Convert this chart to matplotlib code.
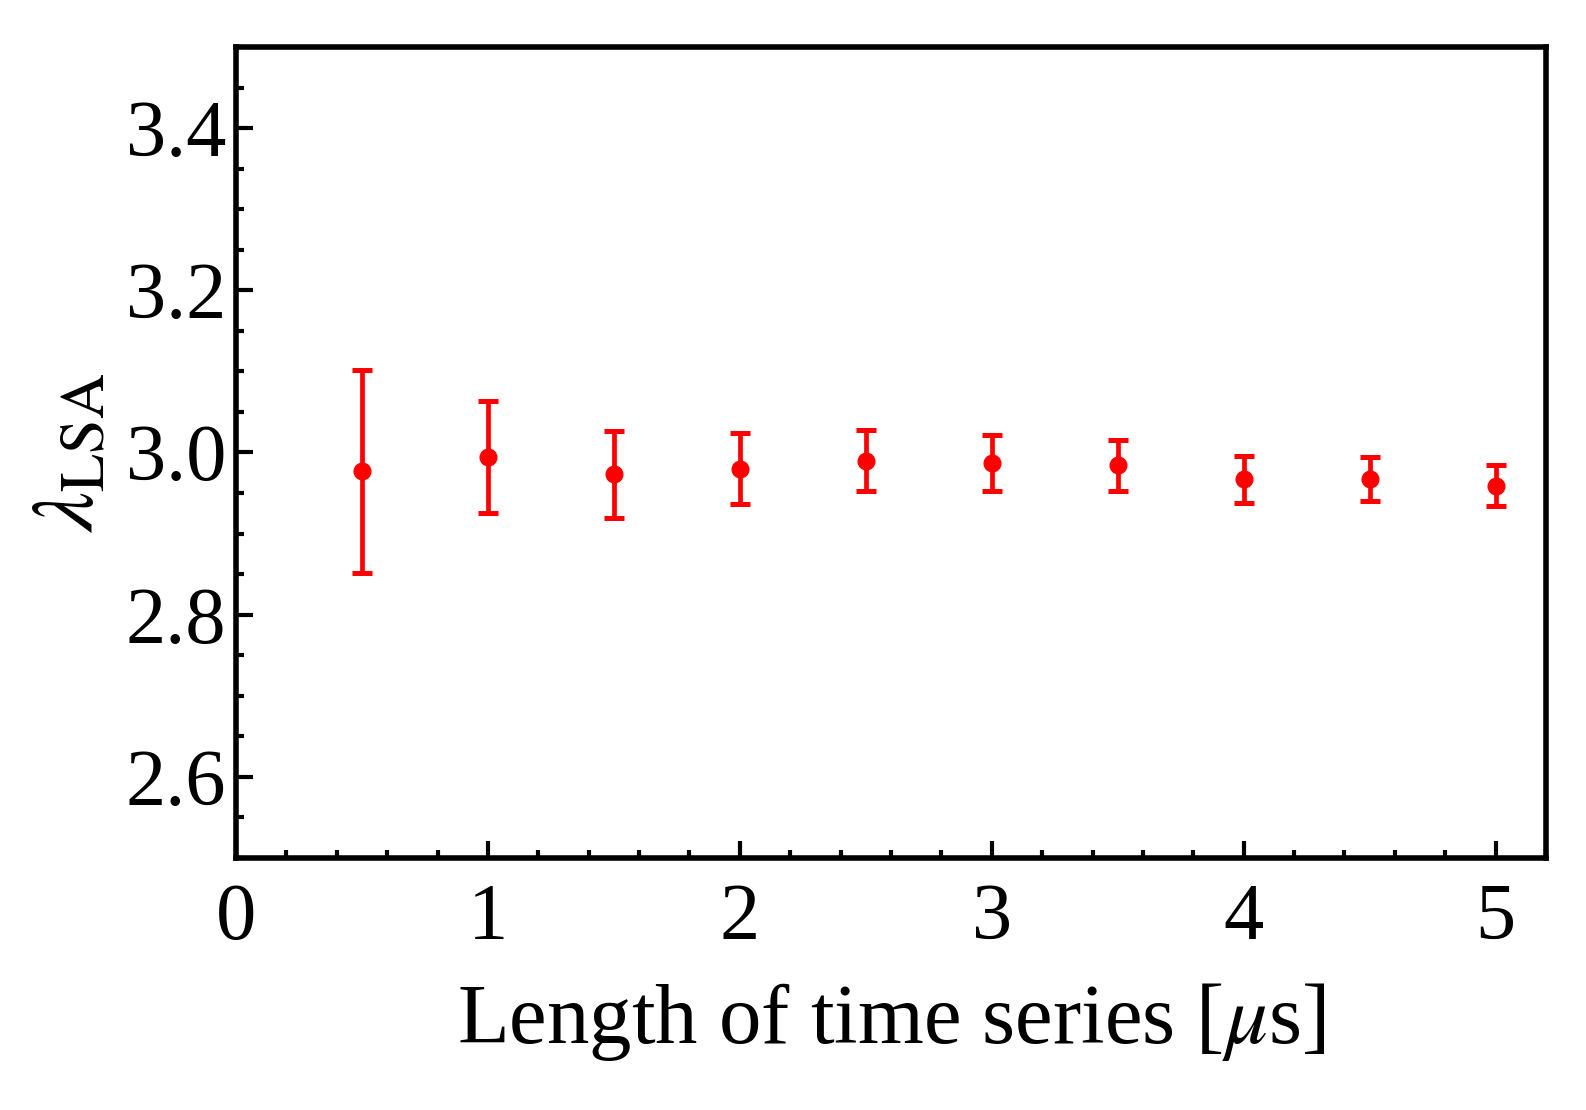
import matplotlib
matplotlib.use("Agg")
import matplotlib.pyplot as plt
from matplotlib.ticker import MultipleLocator

lengths = [0.5, 1.0, 1.5, 2.0, 2.5, 3.0, 3.5, 4.0, 4.5, 5.0]
lam = [2.977, 2.994, 2.973, 2.980, 2.990, 2.987, 2.984, 2.967, 2.967, 2.959]
err = [0.125, 0.069, 0.054, 0.044, 0.038, 0.034, 0.032, 0.029, 0.027, 0.025]
xticks = [0, 1, 2, 3, 4, 5]
yticks = [2.6, 2.8, 3.0, 3.2, 3.4]

plt.rcParams['font.family'] = ['Liberation Serif', 'DejaVu Serif']
plt.rcParams['mathtext.fontset'] = 'stix'

fig = plt.figure(figsize=(15.86, 11.10), dpi=100)
ax = fig.add_axes([0.1488, 0.227, 0.826, 0.7307])

ax.errorbar(lengths, lam, yerr=err, fmt='o', color='#ff0000', ecolor='#ff0000',
            markersize=12, elinewidth=3.4, capsize=7, capthick=3.6)

ax.set_xlim(0, 5.2)
ax.set_ylim(2.5, 3.5)
ax.set_xticks(xticks)
ax.set_xticklabels([str(t) for t in xticks])
ax.set_yticks(yticks)
ax.set_yticklabels([f"{t:.1f}" for t in yticks])
ax.xaxis.set_minor_locator(MultipleLocator(0.2))
ax.yaxis.set_minor_locator(MultipleLocator(0.05))

for s in ax.spines.values():
    s.set_linewidth(4)
ax.tick_params(which='both', direction='in', top=False, right=False, width=3,
               labelsize=58, colors='black')
ax.tick_params(which='major', length=12)
ax.tick_params(axis='x', which='major', pad=18)
ax.tick_params(axis='y', which='major', pad=7)
ax.tick_params(which='minor', length=6)

ax.set_xlabel(r"Length of time series [$\mu$s]", fontsize=61, labelpad=18)
ax.set_ylabel(r"$\lambda_{\mathrm{LSA}}$", fontsize=64, labelpad=10)

fig.savefig("out.png", dpi=100, facecolor='white')
